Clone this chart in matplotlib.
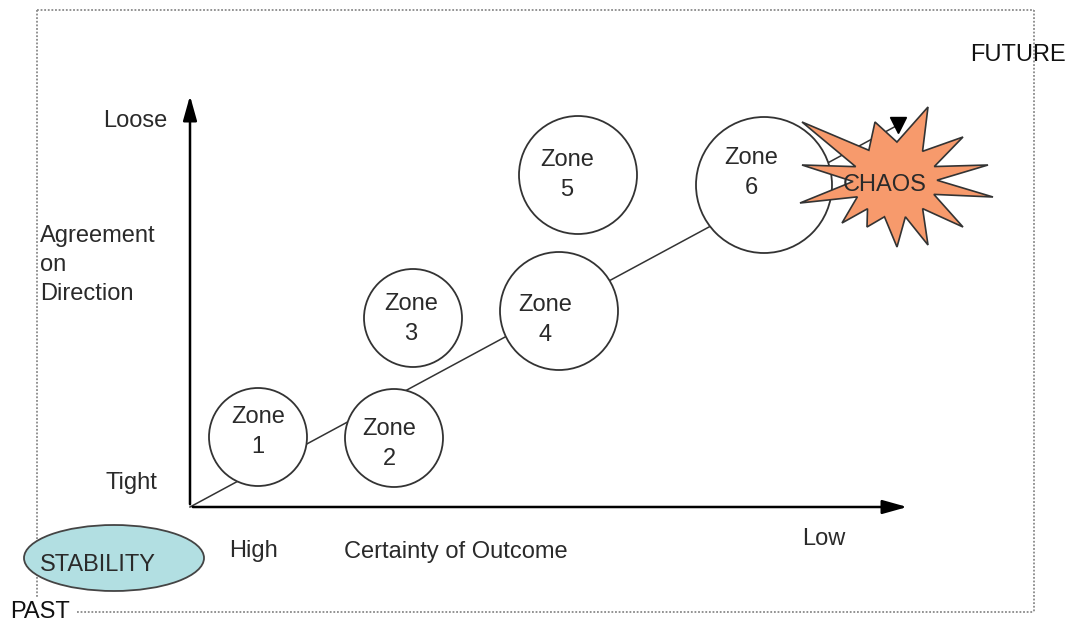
import numpy as np
import matplotlib
matplotlib.use("Agg")
import matplotlib.pyplot as plt
from matplotlib.patches import Circle, Ellipse, Polygon

plt.rcParams['font.family'] = ['Liberation Sans', 'DejaVu Sans']

# zones: position along certainty (x) and agreement (y), drawn size
zone_labels = ["Zone\n1", "Zone\n2", "Zone\n3", "Zone\n4", "Zone\n5", "Zone\n6"]
zone_x = [68, 204, 223, 369, 388, 574]
zone_y = [70, 69, 189, 196, 332, 322]
zone_r = [49, 49, 49, 59, 59, 68]
# where the label sits inside each circle
label_dx = [0, -5, -2, -14, -11, -13]
label_dy = [5, -6, -1, -9, 0, 12]

trend_x = [0, 708]
trend_y = [0, 382]

fig = plt.figure(figsize=(10.72, 6.23), dpi=100)
ax = fig.add_axes([0, 0, 1, 1])
ax.set_xlim(-190, 882)
ax.set_ylim(-116, 507)
ax.axis('off')

txt = '#2a2a2a'
fs = 17

# dotted frame
dot = dict(color='#8a8a8a', lw=1.3, linestyle=(0, (1, 1)))
ax.plot([-153, 844], [497, 497], **dot)
ax.plot([844, 844], [497, -105], **dot)
ax.plot([-113, 844], [-105, -105], **dot)
ax.plot([-153, -153], [497, -90], **dot)

# axes arrows
ax.annotate('', xy=(0, 414), xytext=(0, 0),
            arrowprops=dict(arrowstyle='-|>,head_length=1.5,head_width=0.42', color='black', lw=1.8))
ax.annotate('', xy=(720, 0), xytext=(0, 0),
            arrowprops=dict(arrowstyle='-|>,head_length=1.5,head_width=0.42', color='black', lw=1.8))

# trend line
ax.plot(trend_x, trend_y, color='#333333', lw=1.1, zorder=2)
ax.plot([trend_x[1]], [trend_y[1]], marker='v', color='black', markersize=11, zorder=2)

# zones
for lab, x, y, r, dx, dy in zip(zone_labels, zone_x, zone_y, zone_r, label_dx, label_dy):
    ax.add_patch(Circle((x, y), r, facecolor='white', edgecolor='#333333', lw=1.3, zorder=3))
    ax.text(x + dx, y + dy, lab, ha='center', va='center', fontsize=fs,
            color=txt, linespacing=1.45, zorder=4)

# chaos star
cx, cy = 705, 327
tips = [(-93, 58), (-20, 58), (33, 73), (68, 43), (93, 15), (98, -17), (68, -47),
        (33, -65), (2, -67), (-28, -47), (-53, -43), (-95, -23), (-93, 15)]
ang = [np.arctan2(t[1], t[0]) for t in tips]
pts = []
for i, t in enumerate(tips):
    pts.append((cx + t[0], cy + t[1]))
    a0 = ang[i]
    a1 = ang[(i + 1) % len(tips)]
    d = (a1 - a0) % (2 * np.pi)
    if d > np.pi:
        d -= 2 * np.pi
    am = a0 + d / 2
    pts.append((cx + 42 * np.cos(am), cy + 38 * np.sin(am)))
ax.add_patch(Polygon(pts, closed=True, facecolor='#f79a6c', edgecolor='#333333', lw=1.2, zorder=5))
ax.text(695, 322, "CHAOS", ha='center', va='center', fontsize=fs, color=txt, zorder=6)

# stability ellipse
ax.add_patch(Ellipse((-76, -51), 180, 66, facecolor='#b2dfe2', edgecolor='#444444', lw=1.3, zorder=3))
ax.text(-92, -58, "STABILITY", ha='center', va='center', fontsize=fs, color=txt, zorder=4)

# labels
ax.text(-23, 386, "Loose", ha='right', va='center', fontsize=fs, color=txt)
ax.text(-33, 24, "Tight", ha='right', va='center', fontsize=fs, color=txt)
ax.text(-150, 242, "Agreement\non\nDirection", ha='left', va='center', fontsize=fs,
        color=txt, linespacing=1.4)
ax.text(64, -44, "High", ha='center', va='center', fontsize=fs, color=txt)
ax.text(266, -45, "Certainty of Outcome", ha='center', va='center', fontsize=fs, color=txt)
ax.text(634, -32, "Low", ha='center', va='center', fontsize=fs, color=txt)
ax.text(828, 452, "FUTURE", ha='center', va='center', fontsize=fs, color='#111111')
ax.text(-180, -105, "PAST", ha='left', va='center', fontsize=fs, color='#111111')

fig.savefig("out.png", dpi=100)
